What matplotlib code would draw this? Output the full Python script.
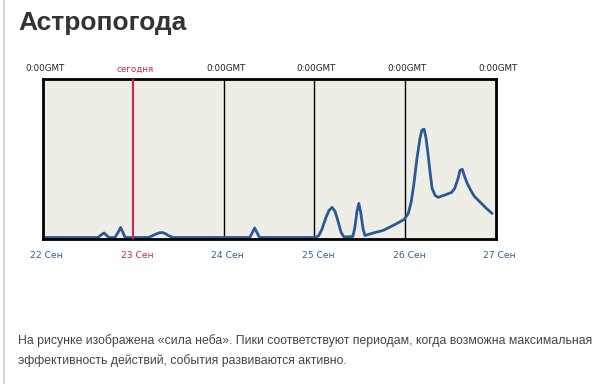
import numpy as np
import matplotlib
matplotlib.use('Agg')
import matplotlib.pyplot as plt
from matplotlib.lines import Line2D

# DATA
hours = [0, 14.7, 15.5, 16.3, 17.0, 17.6, 19.2, 20.0, 20.7, 21.3, 21.9,
         27.9, 29.0, 29.8, 30.8, 31.6, 32.5, 33.3, 34.6,
         54.9, 55.6, 56.2, 56.8, 57.5,
         72.4, 73.2, 74.0, 75.1, 75.9, 76.7, 77.5, 78.3, 79.1, 79.9,
         82.2, 82.7, 83.3, 83.8, 84.3, 84.9, 85.4,
         88.1, 90.2, 93.4, 95.8, 96.9, 97.7, 98.4, 99.2, 100.0, 100.5,
         101.1, 101.6, 102.1, 102.7, 103.2, 104.0, 104.8, 106.3, 108.4,
         109.2, 110.1, 110.6, 111.2, 111.7, 112.5, 113.6, 114.4, 116.0,
         117.6, 119.1]
power = [1, 1, 3.5, 5.5, 3, 1, 1, 6, 11, 6, 1,
         1, 2.5, 4, 5.5, 6, 5, 3, 1,
         1, 6, 10.5, 6, 1,
         1, 3, 9, 21, 28, 31, 27, 17, 6, 1.5,
         2, 10, 27, 35, 26, 10, 3,
         6, 8, 14, 19, 25, 37, 55, 80, 100, 108,
         109, 100, 85, 65, 50, 43, 41, 43, 46,
         50, 60, 68, 69, 63, 55, 47, 42, 36,
         30, 25]
day_labels = ['22 Сен', '23 Сен', '24 Сен', '25 Сен', '26 Сен', '27 Сен']
top_labels = ['0:00GMT', 'сегодня', '0:00GMT', '0:00GMT', '0:00GMT', '0:00GMT']
today_index = 1

blue = '#2a5a96'
crimson = '#c8285a'

fig = plt.figure(figsize=(6, 3.84), dpi=100)
ax = fig.add_axes([42.5 / 600, 1 - 238.5 / 384, 453 / 600, 159.5 / 384])
ax.set_facecolor('#efeee6')

days = np.arange(len(day_labels)) * 24
for i, d in enumerate(days[1:-1], start=1):
    if i == today_index:
        ax.axvline(d, color=crimson, lw=1.6, zorder=3)
    else:
        ax.axvline(d, color='black', lw=1.0, zorder=1)

ax.plot(hours, power, color=blue, lw=2.0, solid_joinstyle='round',
        solid_capstyle='round', zorder=2)

ax.set_xlim(days[0], days[-1])
ax.set_ylim(0, 159)
ax.set_xticks([])
ax.set_yticks([])
for s in ax.spines.values():
    s.set_linewidth(2)
    s.set_color('black')

tr = ax.get_xaxis_transform()
for i, d in enumerate(days):
    c = crimson if i == today_index else '#222222'
    ax.annotate(top_labels[i], xy=(d, 1), xycoords=tr, xytext=(1.5, 4),
                textcoords='offset points', ha='center', va='bottom',
                fontsize=6.3, color=c, family='DejaVu Sans')
    c2 = crimson if i == today_index else '#2f5f90'
    ax.annotate(day_labels[i], xy=(d, 0), xycoords=tr, xytext=(3, -12.5),
                textcoords='offset points', ha='center', va='center',
                fontsize=6.6, color=c2, family='DejaVu Sans')

fig.text(18 / 600, 1 - 23 / 384, 'Астропогода', fontsize=19, fontweight='bold',
         color='#333333', family='Liberation Sans', va='center', ha='left')
fig.text(18 / 600, 1 - 341 / 384,
         'На рисунке изображена «сила неба». Пики соответствуют периодам, когда возможна максимальная',
         fontsize=8.85, color='#444444', family='Liberation Sans', va='center', ha='left')
fig.text(18 / 600, 1 - 361 / 384,
         'эффективность действий, события развиваются активно.',
         fontsize=8.85, color='#444444', family='Liberation Sans', va='center', ha='left')

fig.add_artist(Line2D([3.5 / 600, 3.5 / 600], [0, 1], color='#d8d8d8', lw=1.5,
                      transform=fig.transFigure))

plt.savefig('out.png', dpi=100)
